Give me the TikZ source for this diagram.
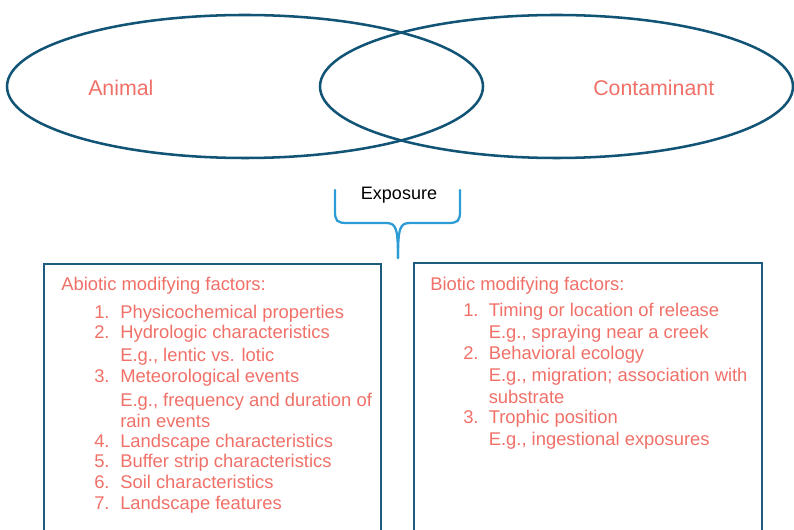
\documentclass[tikz,border=0pt]{standalone}
\usepackage{fontspec}
\setmainfont{Liberation Sans}
\usetikzlibrary{positioning}
\definecolor{venn_blue}{RGB}{18,84,117}
\definecolor{box_blue}{RGB}{30,92,126}
\definecolor{brace_blue}{RGB}{45,155,212}
\definecolor{coral}{RGB}{240,112,104}
\tikzset{
        % Labels inside the two sets
        venn_label/.style={coral, anchor=base west, inner sep=0pt, font=\fontsize{16pt}{19pt}\selectfont},
        % Lines of the factor lists
        list_line/.style={coral, anchor=base west, inner sep=0pt, font=\fontsize{13.8pt}{16pt}\selectfont},
        % Outlines
        venn_set/.style={venn_blue, line width=1.9pt},
        factor_box/.style={box_blue, line width=1.6pt},
        brace_line/.style={brace_blue, line width=1.7pt, line cap=round}
}

\begin{document}
\begin{tikzpicture}[x=0.75pt, y=-0.75pt]
    \useasboundingbox (0,0) rectangle (794,530);

    % Venn diagram
    \draw[venn_set] (245,86.5) ellipse [x radius=238, y radius=71.5];
    \draw[venn_set] (556.5,86.5) ellipse [x radius=236.5, y radius=71.5];
    \node[venn_label] (animal) at (88,96) {Animal};
    \node[venn_label] (contaminant) at (593,96) {Contaminant};

    % Brace
    \node[anchor=base, inner sep=0pt, font=\fontsize{13.5pt}{16pt}\selectfont] (exposure) at (399,199.5) {Exposure};
    \coordinate (brace_tip) at (398,258);
    \draw[brace_line] (335,190) -- (335,211) .. controls (335,221) and (337,223) .. (347,223)
        -- (386,223) .. controls (396,223) and (398,228) .. (brace_tip);
    \draw[brace_line] (460,190) -- (460,211) .. controls (460,221) and (458,223) .. (448,223)
        -- (410,223) .. controls (400,223) and (398,228) .. (brace_tip);

    % Boxes
    \draw[factor_box] (44,264) rectangle (381,545);
    \draw[factor_box] (414,263) rectangle (762,545);

    % Abiotic factors
    \node[list_line] (abiotic) at (61,291) {Abiotic modifying factors:};
    \foreach \y/\n/\t [count=\i] in {
            319/1./Physicochemical properties,
            339/2./Hydrologic characteristics,
            362/{}/{E.g., lentic vs. lotic},
            383/3./Meteorological events,
            407/{}/{E.g., frequency and duration of},
            428/{}/rain events,
            448/4./Landscape characteristics,
            468/5./Buffer strip characteristics,
            489/6./Soil characteristics,
            510/7./Landscape features} {
        \node[list_line] (abiotic-num-\i) at (94,\y) {\n};
        \node[list_line] (abiotic-\i) at (120,\y) {\t};
    }

    % Biotic factors
    \node[list_line] (biotic) at (430,291) {Biotic modifying factors:};
    \foreach \y/\n/\t [count=\i] in {
            317/1./Timing or location of release,
            339/{}/{E.g., spraying near a creek},
            360/2./Behavioral ecology,
            382/{}/{E.g., migration; association with},
            404/{}/substrate,
            424/3./Trophic position,
            446/{}/{E.g., ingestional exposures}} {
        \node[list_line] (biotic-num-\i) at (463,\y) {\n};
        \node[list_line] (biotic-\i) at (488.5,\y) {\t};
    }
\end{tikzpicture}
\end{document}
